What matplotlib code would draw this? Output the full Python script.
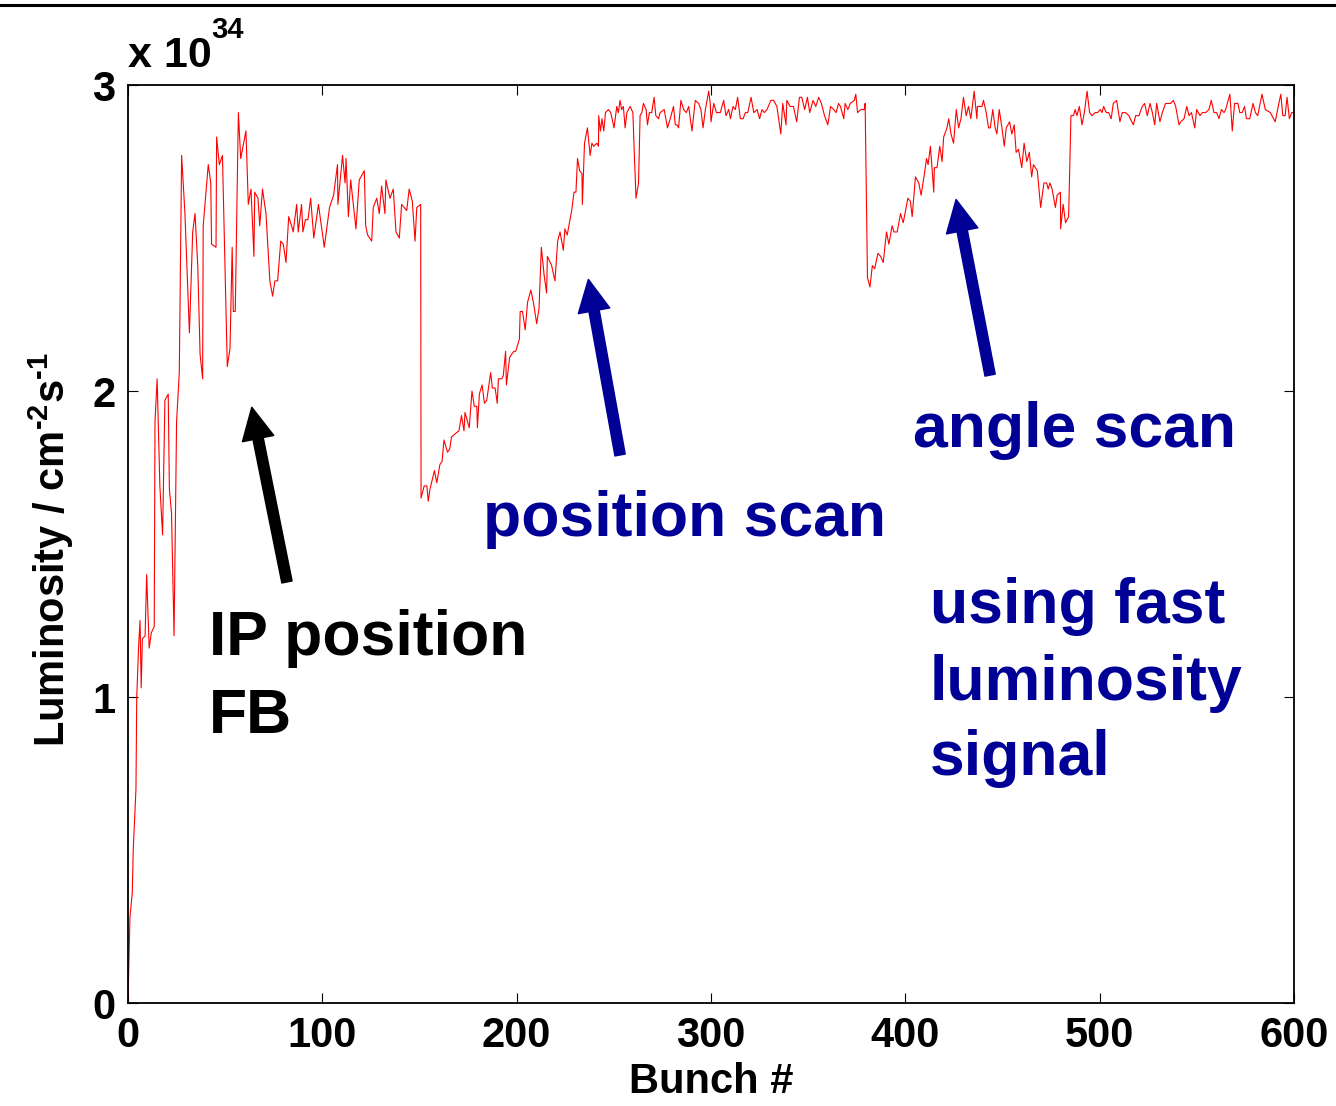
import matplotlib
matplotlib.use('Agg')
import matplotlib.pyplot as plt
from matplotlib.lines import Line2D

plt.rcParams['font.family'] = ['Liberation Sans', 'DejaVu Sans']
plt.rcParams['font.weight'] = 'bold'
plt.rcParams['mathtext.fontset'] = 'custom'
plt.rcParams['mathtext.rm'] = 'Liberation Sans:bold'
plt.rcParams['mathtext.bf'] = 'Liberation Sans:bold'
plt.rcParams['mathtext.default'] = 'rm'

# luminosity per bunch (units of 1e34 cm^-2 s^-1)
bunch = [
    0, 1.0, 2.2, 2.7, 4.1, 4.5, 5.5, 6.2, 6.8, 7.4, 8.8, 9.6, 10.9, 12.0, 13.5,
    13.9, 15.0, 16.4, 17.8, 19.0, 20.7, 21.3, 22.4, 23.7, 25.0, 26.4, 27.6, 29.3,
    31.6, 33.3, 34.5, 35.9, 37.1, 38.4, 38.7, 41.3, 42.6, 43.0, 45.3, 45.6, 47.0,
    48.6, 49.4, 51.1, 52.5, 53.6, 54.2, 55.2, 56.8, 58.0, 60.7, 61.9, 63.3, 64.8,
    65.2, 66.9, 67.8, 69.2, 71.0, 73.0, 74.4, 75.6, 77.0, 78.6, 79.9, 81.3, 82.7,
    84.2, 85.0, 86.8, 87.6, 89.3, 90.0, 91.3, 92.6, 94.0, 95.6, 98.0, 101.0,
    103.7, 105.8, 107.8, 108.0, 110.4, 111.7, 112.2, 113.4, 114.6, 117.3, 119.0,
    121.6, 122.3, 123.3, 125.4, 126.2, 128.0, 129.3, 130.5, 132.2, 132.7, 134.8,
    136.5, 137.9, 139.6, 140.8, 143.4, 144.7, 146.3, 147.7, 148.6, 150.6,
    150.8, 152.4, 153.8, 154.5, 155.4, 157.7, 158.9, 160.5, 161.6, 162.6, 164.4,
    165.5, 166.5, 168.3, 170.3, 171.6, 172.9, 173.4, 175.6, 177.0, 178.2, 179.5,
    179.8, 180.8, 182.2, 183.4, 184.6, 186.6, 187.5, 188.9, 190.0, 190.6, 192.3,
    193.1, 194.3, 194.7, 196.4, 197.4, 198.6, 199.5, 201.4, 201.8, 203.0, 204.4,
    205.6, 207.3, 208.6, 210.3, 211.5, 212.7, 214.1, 215.4, 215.8, 218.0, 219.7,
    221.1, 222.3, 224.0, 224.8, 226.0, 228.3, 229.5, 230.5, 231.3, 232.4, 233.6,
    233.8, 234.9, 236.4, 237.8, 238.7, 239.6, 241.3, 242.1, 242.2, 243.1, 243.9,
    244.8, 245.7, 247.2, 248.4, 250.1, 251.5, 252.3, 253.2, 254.0, 254.9, 255.8,
    256.7, 258.4, 259.8, 260.5, 261.4, 262.7, 263.5, 264.4, 265.2, 266.6, 267.3,
    268.3, 269.5, 270.7, 271.6, 273.0, 273.8, 275.9, 277.6, 279.0, 280.7, 281.6,
    282.5, 283.3, 284.5, 285.9, 287.3, 288.5, 290.2, 291.9, 293.6, 294.8, 295.9,
    297.1, 298.8, 299.6, 300.0, 301.4, 302.8, 304.8, 306.5, 307.7, 309.1, 310.0,
    311.3, 312.5, 313.7, 315.1, 316.5, 317.7, 318.9, 320.6, 322.0, 323.7, 325.0,
    326.2, 327.4, 328.8, 330.8, 332.2, 333.9, 335.9, 336.9, 338.6, 339.0, 340.7,
    342.4, 344.1, 345.5, 346.7, 348.2, 349.6, 350.8, 352.5, 353.9, 355.4, 356.8,
    358.4, 360.1, 361.5, 363.2, 364.4, 365.6, 366.6, 368.3, 369.0, 370.4, 371.7,
    373.7, 374.5, 375.4, 377.1, 378.8, 379.3, 380.5, 381.8, 383.0, 384.2, 385.9,
    387.3, 388.6, 390.3, 391.5, 393.2, 394.1, 395.8, 397.5, 398.9, 401.3, 402.6,
    403.5, 405.2, 406.9, 408.1, 409.8, 410.9, 411.7, 412.9, 414.6, 414.9, 416.3,
    417.7, 418.9, 419.7, 421.4, 422.3, 423.5, 424.8, 426.2, 427.4, 428.6, 429.9,
    431.3, 432.5, 433.7, 435.4, 436.8, 437.1, 439.4, 440.2, 441.6, 442.8, 443.7,
    445.0, 446.2, 447.1, 448.3, 449.7, 450.9, 451.9, 453.6, 454.8, 456.0, 457.0,
    458.2, 459.9, 461.1, 462.5, 463.8, 465.0, 465.9, 467.9, 469.6, 471.3, 472.7,
    473.5, 474.4, 475.5, 477.2, 478.1, 479.8, 479.9, 481.2, 482.4, 484.0, 485.2,
    486.5, 487.4, 488.3, 489.5, 490.9, 492.1, 493.5, 494.8, 496.0, 497.7, 498.9,
    500.3, 501.2, 502.0, 503.4, 504.6, 505.9, 507.0, 508.7, 510.4, 511.6, 513.3,
    515.0, 517.3, 518.5, 520.2, 521.9, 523.1, 524.5, 525.9, 527.1, 528.3, 529.3,
    531.0, 532.2, 533.9, 536.5, 537.9, 539.1, 540.8, 541.7, 543.4, 544.8, 546.0,
    547.2, 548.9, 549.9, 551.6, 552.8, 554.5, 556.2, 557.4, 558.8, 560.2, 561.4,
    562.6, 564.0, 564.8, 567.0, 568.2, 569.4, 571.1, 572.1, 573.3, 574.5, 575.5,
    577.2, 578.9, 580.1, 581.3, 583.5, 585.2, 587.8, 590.3, 592.5, 593.2, 594.2,
    595.4, 596.4, 597.6, 598.8, 600.0,
]
lum = [
    0.0, 0.28, 0.36, 0.50, 0.70, 1.00, 1.17, 1.25, 1.03, 1.19, 1.20, 1.40, 1.16,
    1.21, 1.23, 1.90, 2.04, 1.69, 1.53, 1.97, 1.99, 1.68, 1.60, 1.20, 1.90, 2.06,
    2.77, 2.58, 2.19, 2.52, 2.58, 2.41, 2.12, 2.04, 2.54, 2.74, 2.68, 2.48, 2.47,
    2.83, 2.74, 2.77, 2.55, 2.08, 2.14, 2.47, 2.26, 2.26, 2.91, 2.76, 2.85, 2.61,
    2.66, 2.44, 2.65, 2.63, 2.54, 2.66, 2.58, 2.36, 2.31, 2.36, 2.36, 2.49, 2.48,
    2.42, 2.57, 2.54, 2.52, 2.61, 2.52, 2.61, 2.52, 2.56, 2.56, 2.63, 2.50, 2.61,
    2.47, 2.60, 2.64, 2.74, 2.61, 2.77, 2.68, 2.76, 2.57, 2.69, 2.53, 2.69, 2.72,
    2.54, 2.51, 2.49, 2.60, 2.63, 2.58, 2.67, 2.58, 2.69, 2.63, 2.66, 2.52, 2.50,
    2.61, 2.59, 2.66, 2.62, 2.49, 2.60, 2.61,
    1.65, 1.69, 1.69, 1.64, 1.68, 1.74, 1.70, 1.76, 1.77, 1.84, 1.80, 1.81, 1.85,
    1.86, 1.87, 1.92, 1.87, 1.93, 1.88, 2.00, 1.95, 1.95, 1.88, 1.99, 2.02, 1.96,
    1.97, 2.06, 2.01, 2.01, 1.96, 2.04, 2.04, 2.05, 2.13, 2.02, 2.11, 2.12, 2.13,
    2.13, 2.17, 2.26, 2.26, 2.20, 2.29, 2.33, 2.29, 2.22, 2.27, 2.47, 2.38, 2.32,
    2.44, 2.41, 2.36, 2.49, 2.52, 2.46, 2.53, 2.51, 2.59, 2.65, 2.65, 2.76, 2.72,
    2.71, 2.61, 2.81, 2.86, 2.77, 2.81, 2.80, 2.81, 2.80, 2.90, 2.85, 2.89, 2.85,
    2.91, 2.92, 2.91, 2.86, 2.93, 2.91, 2.95, 2.92, 2.93, 2.86, 2.91, 2.93, 2.91,
    2.78, 2.63, 2.68, 2.90, 2.91, 2.94, 2.92, 2.87, 2.91, 2.91, 2.96, 2.90, 2.89,
    2.91, 2.92, 2.86, 2.89, 2.93, 2.87, 2.87, 2.86, 2.95, 2.92, 2.91, 2.93, 2.85,
    2.95, 2.94, 2.92, 2.86, 2.92, 2.98, 2.94, 2.88, 2.94, 2.91, 2.91, 2.95, 2.90,
    2.92, 2.89, 2.93, 2.92, 2.96, 2.89, 2.89, 2.91, 2.91, 2.96, 2.91, 2.92, 2.89,
    2.92, 2.91, 2.92, 2.95, 2.95, 2.93, 2.84, 2.94, 2.87, 2.95, 2.93, 2.93, 2.88,
    2.96, 2.96, 2.92, 2.96, 2.91, 2.95, 2.93, 2.96, 2.94, 2.90, 2.87, 2.93, 2.92,
    2.91, 2.94, 2.93, 2.89, 2.94, 2.92, 2.94, 2.95, 2.97, 2.91, 2.92, 2.92, 2.94,
    2.37, 2.34, 2.41, 2.40, 2.45, 2.44, 2.42, 2.52, 2.48, 2.54, 2.52, 2.52, 2.58,
    2.55, 2.63, 2.62, 2.57, 2.70, 2.68, 2.64, 2.71, 2.76, 2.74, 2.80, 2.65, 2.73,
    2.73, 2.80, 2.75, 2.83, 2.86, 2.89, 2.84, 2.81, 2.92, 2.86, 2.89, 2.96, 2.90,
    2.93, 2.89, 2.98, 2.89, 2.93, 2.93, 2.95, 2.91, 2.86, 2.86, 2.92, 2.86, 2.84,
    2.92, 2.86, 2.80, 2.86, 2.88, 2.84, 2.87, 2.78, 2.79, 2.73, 2.81, 2.75, 2.78,
    2.70, 2.74, 2.72, 2.60, 2.68, 2.68, 2.66, 2.68, 2.66, 2.60, 2.64, 2.65, 2.53,
    2.61, 2.55, 2.57, 2.90, 2.90, 2.92, 2.90, 2.93, 2.87, 2.91, 2.98, 2.91, 2.90,
    2.91, 2.91, 2.92, 2.91, 2.93, 2.91, 2.91, 2.89, 2.94, 2.95, 2.88, 2.91, 2.91,
    2.90, 2.87, 2.90, 2.90, 2.93, 2.94, 2.90, 2.94, 2.91, 2.87, 2.94, 2.88, 2.91,
    2.94, 2.94, 2.95, 2.93, 2.87, 2.88, 2.89, 2.93, 2.90, 2.91, 2.86, 2.92, 2.90,
    2.91, 2.91, 2.92, 2.95, 2.91, 2.91, 2.89, 2.92, 2.91, 2.92, 2.97, 2.85, 2.94,
    2.94, 2.91, 2.91, 2.93, 2.89, 2.89, 2.94, 2.91, 2.90, 2.97, 2.92, 2.91, 2.88,
    2.95, 2.97, 2.90, 2.90, 2.96, 2.89, 2.91, 2.91,
]

xticks = [0, 100, 200, 300, 400, 500, 600]
yticks = [0, 1, 2, 3]

navy = '#000096'

fig = plt.figure(figsize=(13.36, 11.06), dpi=100)
ax = fig.add_axes([0.0958, 0.0931, 0.8728, 0.8300])

ax.plot(bunch, lum, color='red', linewidth=0.8)

ax.set_xlim(0, 600)
ax.set_ylim(0, 3)
ax.set_xticks(xticks)
ax.set_yticks(yticks)
ax.tick_params(direction='in', top=True, right=True, length=7, width=0.8,
               labelsize=30, pad=9)
for lab in ax.get_xticklabels() + ax.get_yticklabels():
    lab.set_fontweight('bold')
for s in ax.spines.values():
    s.set_linewidth(1.3)

ax.set_xlabel('Bunch #', fontsize=30, fontweight='bold')
ax.xaxis.set_label_coords(0.5, -0.064)
ax.set_ylabel(r'Luminosity / cm$^{\text{-2}}$s$^{\text{-1}}$', fontsize=30, fontweight='bold')
ax.yaxis.set_label_coords(-0.045, 0.494)

# exponent label above the y axis
fig.text(128 / 1336, 1 - 67 / 1106, 'x 10', fontsize=31, fontweight='bold',
         ha='left', va='baseline')
fig.text(211 / 1336, 1 - 38 / 1106, '34', fontsize=21, fontweight='bold',
         ha='left', va='baseline')

# thick rule across the top of the slide
fig.add_artist(Line2D([0, 1], [1 - 4.5 / 1106, 1 - 4.5 / 1106],
                      color='black', linewidth=2.2, transform=fig.transFigure))

# arrows
arrows = [
    ((81.8, 1.376), (63.7, 1.947), 'black'),
    ((253.2, 1.791), (236.9, 2.365), navy),
    ((443.6, 2.052), (426.1, 2.626), navy),
]
for tail, tip, c in arrows:
    ax.annotate('', xy=tip, xytext=tail,
                arrowprops=dict(arrowstyle='simple,head_length=23,head_width=23,tail_width=7.5',
                                mutation_scale=1, color=c, shrinkA=0, shrinkB=0))

# annotation text
labels = [
    (41.7, 1.137, 'IP position', 'black'),
    (41.7, 0.882, 'FB', 'black'),
    (182.7, 1.526, 'position scan', navy),
    (403.9, 1.817, 'angle scan', navy),
    (412.7, 1.242, 'using fast', navy),
    (412.7, 0.990, 'luminosity', navy),
    (412.7, 0.745, 'signal', navy),
]
for x, y, s, c in labels:
    ax.text(x, y, s, fontsize=45, fontweight='bold', color=c,
            ha='left', va='baseline')

fig.savefig('out.png', dpi=100)
